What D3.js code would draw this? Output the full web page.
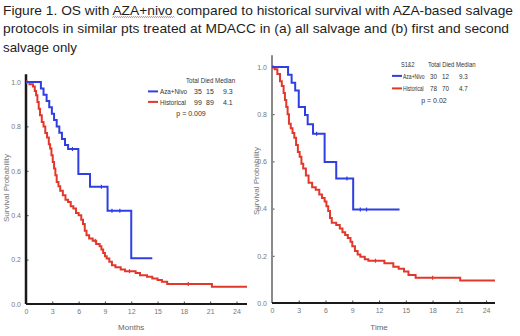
<!DOCTYPE html>
<html><head><meta charset="utf-8">
<script src="https://cdn.jsdelivr.net/npm/d3@7/dist/d3.min.js"></script>
<style>
html,body{margin:0;padding:0;background:#fff;}
svg{display:block;}
</style></head>
<body>
<svg id="c" width="520" height="336"></svg>
<script>
// ---------- data ----------
const titleLines = [
  "Figure 1. OS with AZA+nivo compared to historical survival with AZA-based salvage",
  "protocols in similar pts treated at MDACC in (a) all salvage and (b) first and second",
  "salvage only"
];
const xTicks = [0, 3, 6, 9, 12, 15, 18, 21, 24];
const yTicks = [0, 0.2, 0.4, 0.6, 0.8, 1.0];

// Panel (a) all salvage
const aBlueT = [0, 1.7, 2.0, 2.35, 2.65, 2.95, 3.2, 3.5, 3.8, 4.1, 4.45, 4.8, 5.97, 7.3, 9.3, 12.0, 14.4];
const aBlueS = [1.0, 0.971, 0.943, 0.914, 0.886, 0.857, 0.829, 0.80, 0.771, 0.743, 0.716, 0.698, 0.586, 0.528, 0.42, 0.206, 0.206];
const aBlueCens = [5.3, 8.6, 9.8, 10.7];
const aRedT = [0,0.4,0.8,1.0,1.15,1.3,1.45,1.6,1.8,2.0,2.2,2.4,2.6,2.75,2.9,3.05,3.2,3.35,3.5,3.7,3.9,4.2,4.5,4.8,5.1,5.4,5.7,6.0,6.3,6.5,6.7,6.9,7.2,7.6,8.0,8.4,8.6,8.8,9.0,9.2,9.5,9.8,10.2,10.8,11.3,12.5,13.0,13.8,14.4,15.0,15.5,16.1,21.2,25.2];
const aRedS = [1.0,0.99,0.98,0.96,0.94,0.91,0.88,0.85,0.82,0.80,0.77,0.75,0.72,0.70,0.67,0.64,0.61,0.58,0.55,0.53,0.51,0.49,0.47,0.46,0.44,0.43,0.41,0.40,0.38,0.36,0.33,0.31,0.295,0.285,0.27,0.26,0.245,0.23,0.215,0.205,0.19,0.175,0.165,0.155,0.148,0.14,0.13,0.123,0.115,0.108,0.10,0.09,0.078,0.078];
const aRedCens = [0.1, 7.9, 11.8, 18.5];
const aLegendHeader = ["Total Died Median"];
const aLegendRows = [
  {name: "Aza+Nivo", total: "35", died: "15", median: "9.3"},
  {name: "Historical", total: "99", died: "89", median: "4.1"}
];
const aPvalue = "p = 0.009";
const aXTitle = "Months";

// Panel (b) first and second salvage
const bBlueT = [0, 1.8, 2.2, 2.6, 3.0, 3.7, 4.0, 4.6, 5.9, 7.2, 9.1, 14.3];
const bBlueS = [1.0, 0.967, 0.933, 0.90, 0.83, 0.797, 0.757, 0.717, 0.597, 0.528, 0.396, 0.396];
const bBlueCens = [5.0, 8.4, 9.9, 10.6];
const bRedT = [0,0.3,0.6,0.9,1.1,1.3,1.45,1.6,1.75,1.9,2.1,2.3,2.5,2.7,2.9,3.1,3.3,3.5,3.8,4.1,4.5,4.9,5.3,5.6,5.9,6.1,6.3,6.5,6.7,7.2,7.6,7.9,8.2,8.5,8.8,9.0,9.3,9.6,9.9,10.4,10.8,12.6,13.6,14.2,14.8,15.3,16.1,21.1,25.0];
const bRedS = [1.0,0.99,0.97,0.94,0.92,0.89,0.86,0.83,0.80,0.76,0.74,0.72,0.70,0.67,0.64,0.62,0.59,0.57,0.54,0.51,0.49,0.48,0.46,0.445,0.43,0.41,0.39,0.36,0.34,0.33,0.316,0.30,0.288,0.275,0.26,0.24,0.22,0.205,0.196,0.185,0.179,0.168,0.154,0.145,0.133,0.119,0.107,0.095,0.095];
const bRedCens = [0.1, 11.6, 18.0];
const bLegendHeader = ["S1&2", "Total Died Median"];
const bLegendRows = [
  {name: "Aza+Nivo", total: "30", died: "12", median: "9.3"},
  {name: "Historical", total: "78", died: "70", median: "4.7"}
];
const bPvalue = "p = 0.02";
const bXTitle = "Time";
const yTitle = "Survival Probability";

// ---------- drawing ----------
const BLUE = "#2f3fe4", RED = "#e2382c";
const svg = d3.select("#c");
const FONT = "'Liberation Sans', Arial, sans-serif";
const NARROW = "'Liberation Sans Narrow', 'Arial Narrow', 'Liberation Sans', Arial, sans-serif";

// Title
const baselines = [15, 33, 51.5];
const widths = [510, 506, 74];
titleLines.forEach((t, i) => {
  const el = svg.append("text")
    .attr("x", 3).attr("y", baselines[i])
    .attr("font-family", FONT).attr("font-size", 13.5)
    .attr("fill", "#1e1e1e")
    .attr("textLength", widths[i]).attr("lengthAdjust", "spacingAndGlyphs")
    .text(t);
  if (i === 0) {
    const idx = t.indexOf("AZA+nivo");
    const node = el.node();
    const x0 = node.getStartPositionOfChar(idx).x;
    const x1 = node.getEndPositionOfChar(idx + 7).x;
    let d = "M" + x0 + "," + 17.5;
    for (let x = x0; x < x1; x += 2) d += "L" + (x + 1) + "," + 16.5 + "L" + (x + 2) + "," + 17.5;
    svg.append("path").attr("d", d).attr("fill", "none").attr("stroke", "#e04040").attr("stroke-width", 0.8);
  }
});

function panel(cfg) {
  const x = d3.scaleLinear().domain(cfg.xDomain).range(cfg.xRange);
  const y = d3.scaleLinear().domain([0, 1]).range(cfg.yRange);
  const g = svg.append("g");

  // axes
  const xAxis = d3.axisBottom(x).tickValues(xTicks).tickSize(-2.5).tickPadding(5).tickFormat(d3.format("d"));
  const yAxis = d3.axisLeft(y).tickValues(yTicks).tickSize(-2.5).tickPadding(5).tickFormat(d3.format(".1f"));
  const gx = g.append("g").attr("transform", `translate(0,${y(0)})`).call(xAxis);
  const gy = g.append("g").attr("transform", `translate(${x(0)},0)`).call(yAxis);
  [gx, gy].forEach(a => {
    a.select(".domain").remove();
    a.selectAll(".tick line").attr("stroke", "#444").attr("stroke-width", 1);
    a.selectAll(".tick text").attr("font-family", NARROW).attr("font-size", 7).attr("fill", "#777");
  });
  // y axis line
  g.append("line").attr("x1", x(0)).attr("x2", x(0)).attr("y1", y(0)).attr("y2", y(cfg.yTop))
    .attr("stroke", cfg.yAxisColor).attr("stroke-width", cfg.yAxisWidth);
  // x axis line
  g.append("line").attr("x1", x(0)).attr("x2", x(cfg.xDomain[1])).attr("y1", y(0)).attr("y2", y(0))
    .attr("stroke", "#1a1a1a").attr("stroke-width", 2);

  // curves
  const line = d3.line().x(d => x(d[0])).y(d => y(d[1])).curve(d3.curveStepAfter);
  const step = (T, S) => d3.zip(T, S);
  const survAt = (T, S, t) => { let v = S[0]; for (let i = 0; i < T.length; i++) if (T[i] <= t) v = S[i]; return v; };
  cfg.series.forEach(s => {
    g.append("path").attr("d", line(step(s.t, s.s))).attr("fill", "none")
      .attr("stroke", s.color).attr("stroke-width", 2).attr("stroke-linejoin", "miter");
    g.selectAll(null).data(s.cens).enter().append("line")
      .attr("x1", d => x(d)).attr("x2", d => x(d))
      .attr("y1", d => y(survAt(s.t, s.s, d)) - 2).attr("y2", d => y(survAt(s.t, s.s, d)) + 2)
      .attr("stroke", s.color).attr("stroke-width", 1.2);
  });

  // axis titles
  g.append("text").attr("x", (x(0) + x(24)) / 2).attr("y", cfg.xTitleY).attr("text-anchor", "middle")
    .attr("font-family", NARROW).attr("font-size", 8).attr("fill", "#666").text(cfg.xTitle);
  g.append("text").attr("transform", `translate(${cfg.yTitleX},${cfg.yTitleCY}) rotate(-90)`)
    .attr("text-anchor", "middle").attr("font-family", NARROW).attr("font-size", 8).attr("fill", "#777").text(yTitle);

  // legend (condensed text via horizontal scale)
  const L = cfg.legend;
  const lg = g.append("g").attr("font-family", NARROW).attr("font-size", 7).attr("fill", "#333");
  const cond = (tx, ty, sx, str) => lg.append("text")
    .attr("transform", `translate(${tx},${ty}) scale(${sx},1)`).text(str);
  L.header.forEach((h, i) => cond(L.headerX[i], L.headerY, L.headerS[i], h));
  L.rows.forEach((r, i) => {
    const yy = L.rowY[i];
    lg.append("line").attr("x1", L.lineX[0]).attr("x2", L.lineX[1]).attr("y1", yy - 2.6).attr("y2", yy - 2.6)
      .attr("stroke", i === 0 ? BLUE : RED).attr("stroke-width", 2);
    cond(L.nameX, yy, L.nameS, r.name);
    cond(L.colX[0], yy, L.numS, r.total);
    cond(L.colX[1], yy, L.numS, r.died);
    cond(L.colX[2], yy, L.numS, r.median);
  });
  lg.append("text").attr("x", L.pX).attr("y", L.pY).attr("text-anchor", "middle").text(L.p);
}

panel({
  xDomain: [0, 25.2], xRange: [26, 247], yRange: [304, 82], yTop: 1.035,
  yAxisColor: "#1a1a1a", yAxisWidth: 2.5,
  xTitle: aXTitle, xTitleY: 330, yTitleX: 9, yTitleCY: 188,
  series: [
    {t: aRedT, s: aRedS, cens: aRedCens, color: RED},
    {t: aBlueT, s: aBlueS, cens: aBlueCens, color: BLUE}
  ],
  legend: {
    header: aLegendHeader, headerX: [186], headerS: [0.88], headerY: 83,
    rows: aLegendRows, rowY: [94, 104.5], lineX: [148, 158], nameX: 160, nameS: 0.9, numS: 1,
    colX: [194, 206, 223], p: aPvalue, pX: 191, pY: 115.5
  }
});

panel({
  xDomain: [0, 25], xRange: [272, 495], yRange: [303, 67], yTop: 1.05,
  yAxisColor: "#8a8a8a", yAxisWidth: 2,
  xTitle: bXTitle, xTitleY: 330, yTitleX: 259, yTitleCY: 181,
  series: [
    {t: bRedT, s: bRedS, cens: bRedCens, color: RED},
    {t: bBlueT, s: bBlueS, cens: bBlueCens, color: BLUE}
  ],
  legend: {
    header: bLegendHeader, headerX: [401, 428], headerS: [0.8, 0.85], headerY: 67,
    rows: bLegendRows, rowY: [78.5, 91], lineX: [392, 402], nameX: 403, nameS: 0.72, numS: 0.9,
    colX: [430, 442, 459], p: bPvalue, pX: 434, pY: 102.5
  }
});
</script>
</body></html>
